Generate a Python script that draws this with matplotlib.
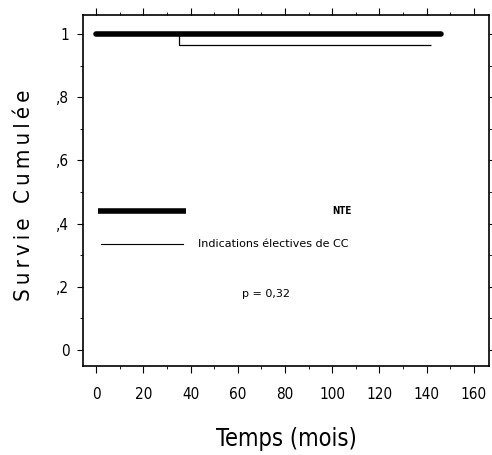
import matplotlib
matplotlib.use("Agg")
import matplotlib.pyplot as plt
from matplotlib.ticker import MultipleLocator, FixedLocator

plt.rcParams["font.family"] = ["DejaVu Sans"]
plt.rcParams["font.stretch"] = "condensed"

# courbes de survie (Kaplan-Meier)
nte_t = [0, 146]
nte_s = [1.0, 1.0]
cc_t = [0, 35, 35, 142]
cc_s = [1.0, 1.0, 0.965, 0.965]

x_ticks = [0, 20, 40, 60, 80, 100, 120, 140, 160]
y_ticks = [0, 0.2, 0.4, 0.6, 0.8, 1.0]
y_labels = ["0", ",2", ",4", ",6", ",8", "1"]

fig = plt.figure(figsize=(4.92, 4.55), dpi=100)
ax = fig.add_axes([0.169, 0.196, 0.825, 0.771])

ax.plot(cc_t, cc_s, color="black", lw=0.9, solid_capstyle="butt")
ax.plot(nte_t, nte_s, color="black", lw=4.0, solid_capstyle="round")

# legende dessinee a la main
ax.plot([1, 38], [0.441, 0.441], color="black", lw=4.0, solid_capstyle="butt")
ax.plot([2, 37], [0.335, 0.335], color="black", lw=0.8)
ax.text(100, 0.441, "NTE", fontsize=7, va="center", ha="left", fontweight="bold")
ax.text(43, 0.337, "Indications électives de CC", fontsize=8, va="center", ha="left",
        fontstretch="normal")
ax.text(62, 0.177, "p = 0,32", fontsize=8, va="center", ha="left", fontstretch="normal")

ax.set_xlim(-5.5, 166.5)
ax.set_ylim(-0.05, 1.06)
ax.xaxis.set_major_locator(FixedLocator(x_ticks))
ax.xaxis.set_minor_locator(MultipleLocator(10))
ax.yaxis.set_major_locator(FixedLocator(y_ticks))
ax.yaxis.set_minor_locator(MultipleLocator(0.1))
ax.set_yticklabels(y_labels)

ax.tick_params(axis="x", which="major", direction="out", length=5, top=True, labelsize=11, pad=10)
ax.tick_params(axis="x", which="minor", direction="out", length=2, top=True)
ax.tick_params(axis="y", which="major", direction="out", length=4, right=True, labelsize=11, pad=6)
ax.tick_params(axis="y", which="minor", direction="out", length=2, right=True)

for s in ax.spines.values():
    s.set_linewidth(1.2)

ax.set_xlabel("Temps (mois)", fontsize=17, labelpad=18)
ax.set_ylabel("\u2009".join("Survie Cumulée"), fontsize=16)
ax.yaxis.set_label_coords(-0.12, 0.485)

plt.savefig("out.png", dpi=100)
